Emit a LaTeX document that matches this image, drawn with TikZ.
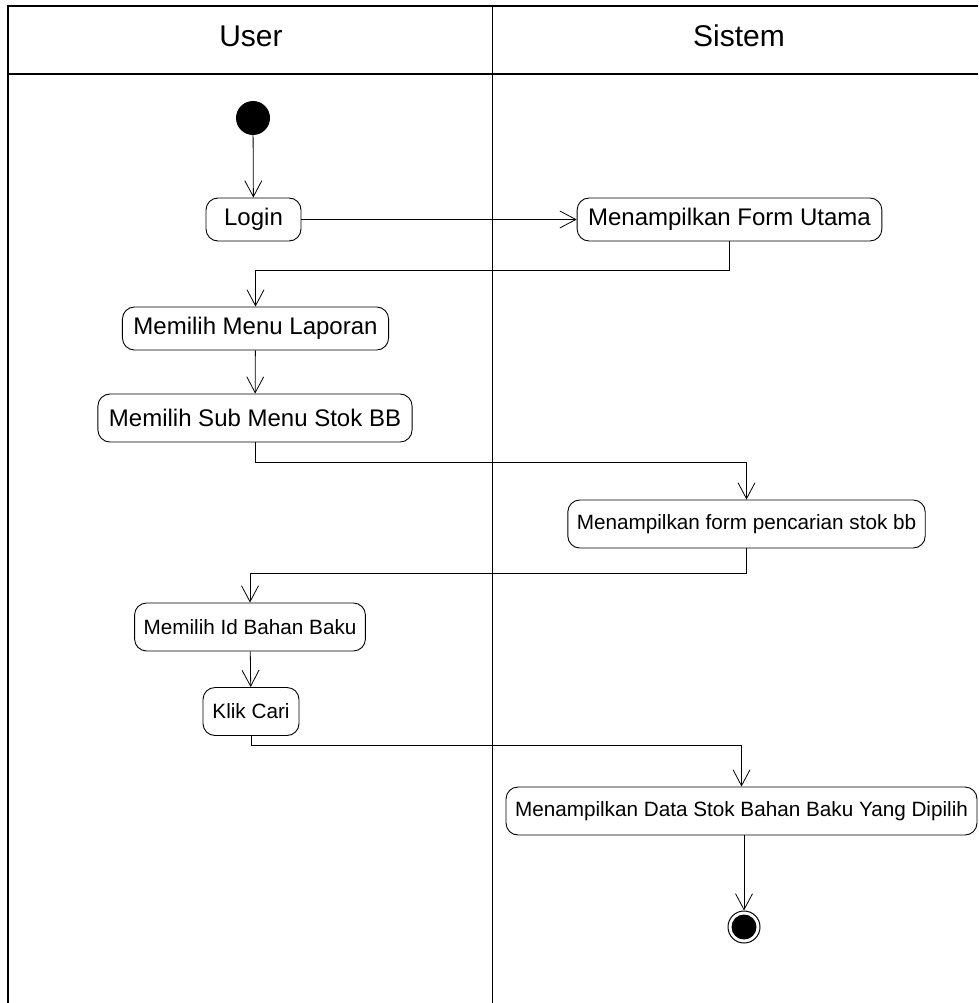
\documentclass[tikz,border=0pt]{standalone}
\usepackage{fontspec}
\setmainfont{Liberation Sans}
\usepackage{tikz}
\usetikzlibrary{arrows.meta,positioning}

\tikzset{
  act/.style={draw, rounded corners=12pt, line width=0.9pt, inner xsep=11pt,
    minimum height=43pt, font=\fontsize{24}{28}\selectfont},
  actsmall/.style={act, minimum height=48pt, inner xsep=9pt,
    font=\fontsize{20.7}{24}\selectfont},
  flow/.style={line width=0.8pt, -{Straight Barb[length=16pt,width=17pt,line width=0.8pt]}},
  lane/.style={line width=1.4pt},
}

\begin{document}
\begin{tikzpicture}[x=1pt,y=-1pt]
  \useasboundingbox (0,0) rectangle (978,1003);
  % swimlanes
  \draw [lane] (8,1003) -- (8,6) -- (978,6);
  \draw [lane] (8,74) -- (978,74);
  \draw [line width=1pt] (492,6) -- (492,1003);
  \node (user) [font=\fontsize{30}{34}\selectfont] at (251,36) {User};
  \node (sistem) [font=\fontsize{30}{34}\selectfont] at (739,36) {Sistem};

  % activities
  \node (start) [circle, fill, minimum size=34pt, inner sep=0] at (253,118) {};
  \node (login) [act, minimum width=95pt] at (253.5,219.5) {Login};
  \node (utama) [act] at (729.5,219.5) {Menampilkan Form Utama};
  \node (laporan) [act] at (255.5,328.5) {Memilih Menu Laporan};
  \node (submenu) [act, minimum height=48pt] at (255,418) {Memilih Sub Menu Stok BB};
  \node (formcari) [actsmall] at (746.5,524) {Menampilkan form pencarian stok bb};
  \node (idbb) [actsmall] at (250,627) {Memilih Id Bahan Baku};
  \node (klik) [actsmall, minimum width=96pt] at (251,711.5) {Klik Cari};
  \node (data) [actsmall] at (741.5,811) {Menampilkan Data Stok Bahan Baku Yang Dipilih};
  \node (end) [circle, draw, line width=1pt, minimum size=32pt, inner sep=0] at (744,927) {};
  \node [circle, fill, minimum size=25pt, inner sep=0] at (end) {};

  % transitions
  \draw [flow] (start) -- (login);
  \draw [flow] (login) -- (utama);
  \draw [flow] (utama.south) -- ++(0,29) -| (laporan.north);
  \draw [flow] (laporan) -- (submenu);
  \draw [flow] (submenu.south) -- ++(0,20) -| (formcari.north);
  \draw [flow] (formcari.south) -- ++(0,25) -| (idbb.north);
  \draw [flow] (idbb) -- (klik);
  \draw [flow] (klik.south) -- ++(0,9) -| (data.north);
  \draw [flow] (end |- data.south) -- (end);
\end{tikzpicture}
\end{document}
